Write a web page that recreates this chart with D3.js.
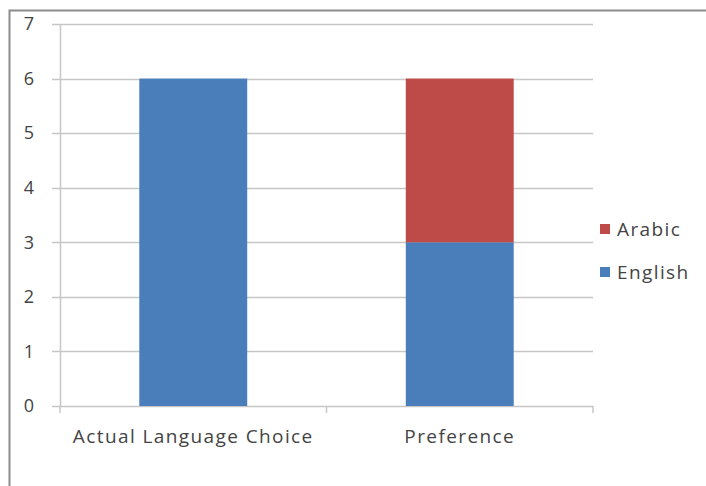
<!DOCTYPE html>
<html>
<head>
<meta charset="utf-8">
<script src="https://cdn.jsdelivr.net/npm/d3@7"></script>
<style>
  body { margin: 0; background: #fff; }
  text { font-family: "Open Sans", sans-serif; fill: #444; }
</style>
</head>
<body>
<svg id="chart" width="706" height="486"></svg>
<script>
// data
let categories = ['Actual Language Choice', 'Preference'];
let seriesNames = ['English', 'Arabic'];
let english = [6, 3];
let arabic = [0, 3];
let yTicks = [0, 1, 2, 3, 4, 5, 6, 7];
let colors = { English: '#4a7ebb', Arabic: '#be4b48' };

let svg = d3.select('#chart');

// outer frame
svg.append('path')
	.attr('d', 'M9.5,486 L9.5,10.5 L706,10.5')
	.attr('fill', 'none')
	.attr('stroke', '#8c8c8c')
	.attr('stroke-width', 2);

let margin = { top: 24, left: 60, right: 113, bottom: 80 };
let width = 706 - margin.left - margin.right;
let height = 486 - margin.top - margin.bottom;

let g = svg.append('g')
	.attr('transform', 'translate(' + margin.left + ',' + margin.top + ')');

let x = d3.scaleBand()
	.domain(categories)
	.range([0, width])
	.paddingInner(0.595)
	.paddingOuter(0.2975);

let y = d3.scaleLinear()
	.domain([0, 7])
	.range([height, 0]);

// gridlines
g.selectAll('.grid')
	.data(yTicks)
	.enter()
	.append('line')
	.attr('x1', -8)
	.attr('x2', width)
	.attr('y1', function(d) { return Math.round(y(d)) + 0.5 })
	.attr('y2', function(d) { return Math.round(y(d)) + 0.5 })
	.attr('stroke', '#c6c6c6')
	.attr('stroke-width', 1.5);

// y axis line
g.append('line')
	.attr('x1', 0.5).attr('x2', 0.5)
	.attr('y1', 0).attr('y2', height)
	.attr('stroke', '#c6c6c6')
	.attr('stroke-width', 1.5);

// x tick marks between categories
g.selectAll('.xtick')
	.data([0, 1, 2])
	.enter()
	.append('line')
	.attr('x1', function(d) { return d * width / 2 })
	.attr('x2', function(d) { return d * width / 2 })
	.attr('y1', height)
	.attr('y2', height + 7)
	.attr('stroke', '#c6c6c6')
	.attr('stroke-width', 1.5);

// y labels
g.selectAll('.ylabel')
	.data(yTicks)
	.enter()
	.append('text')
	.attr('x', -26)
	.attr('y', function(d) { return y(d) })
	.attr('dy', '0.35em')
	.attr('text-anchor', 'end')
	.style('font-size', '18px')
	.text(function(d) { return d });

// stacked bars
let rows = categories.map(function(c, i) {
	return { cat: c, English: english[i], Arabic: arabic[i] };
});
let stack = d3.stack().keys(seriesNames)(rows);

g.selectAll('.series')
	.data(stack)
	.enter()
	.append('g')
	.attr('fill', function(d) { return colors[d.key] })
	.selectAll('rect')
	.data(function(d) { return d })
	.enter()
	.append('rect')
	.attr('x', function(d) { return x(d.data.cat) })
	.attr('width', x.bandwidth())
	.attr('y', function(d) { return y(d[1]) })
	.attr('height', function(d) { return y(d[0]) - y(d[1]) });

// x labels
g.selectAll('.xlabel')
	.data(categories)
	.enter()
	.append('text')
	.attr('x', function(d) { return x(d) + x.bandwidth() / 2 })
	.attr('y', height + 37)
	.attr('text-anchor', 'middle')
	.style('font-size', '19px')
	.style('letter-spacing', '1.4px')
	.text(function(d) { return d });

// legend
let legend = svg.selectAll('.legend')
	.data(['Arabic', 'English'])
	.enter()
	.append('g')
	.attr('transform', function(d, i) { return 'translate(600,' + (229 + i * 43) + ')' });

legend.append('rect')
	.attr('x', 0)
	.attr('y', -5)
	.attr('width', 10)
	.attr('height', 10)
	.attr('fill', function(d) { return colors[d] });

legend.append('text')
	.attr('x', 17)
	.attr('dy', '0.35em')
	.style('font-size', '19px')
	.style('letter-spacing', '1.4px')
	.text(function(d) { return d });
</script>
</body>
</html>
